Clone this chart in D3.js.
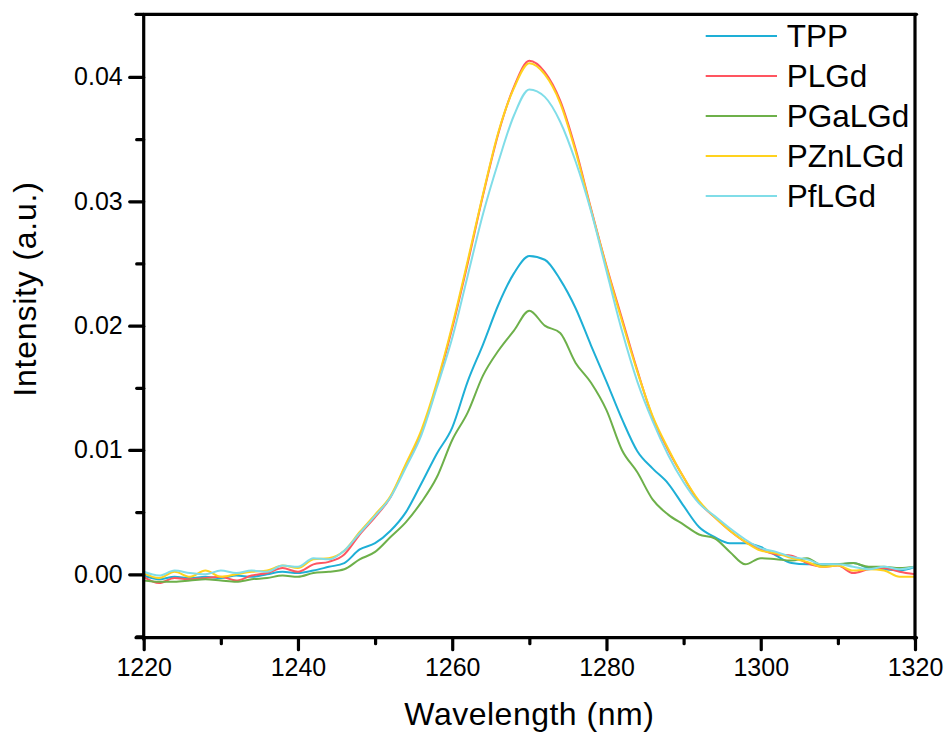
<!DOCTYPE html>
<html><head><meta charset="utf-8">
<script src="https://cdn.jsdelivr.net/npm/d3@7"></script>
<style>body{margin:0;background:#fff}svg{display:block}text{font-family:Arial,"Liberation Sans",sans-serif;fill:#000}</style>
</head><body>
<svg id="c" width="947" height="733"></svg>
<script>
const wavelength = [1220,1222,1224,1226,1228,1230,1232,1234,1236,1238,1240,1242,1244,1246,1248,1250,1252,1254,1256,1258,1260,1262,1264,1266,1268,1270,1272,1274,1276,1278,1280,1282,1284,1286,1288,1290,1292,1294,1296,1298,1300,1302,1304,1306,1308,1310,1312,1314,1316,1318,1320];
const seriesNames = ["TPP","PLGd","PGaLGd","PZnLGd","PfLGd"];
const seriesColors = ["#1eafd6","#ff5560","#6db04a","#ffd21e","#80dde8"];
const TPP = [-0.0001,-0.0004,-0.0002,-0.0003,-0.0002,-0.0003,-0.0001,-0.0002,0.0000,0.0002,0.0001,0.0003,0.0006,0.0009,0.0020,0.0025,0.0035,0.0050,0.0073,0.0097,0.0118,0.0155,0.0185,0.0217,0.0242,0.0256,0.0253,0.0237,0.0214,0.0184,0.0155,0.0125,0.0099,0.0085,0.0073,0.0055,0.0038,0.0030,0.0025,0.0025,0.0022,0.0015,0.0009,0.0008,0.0008,0.0008,0.0009,0.0005,0.0004,0.0003,0.0006];
const PLGd = [-0.0002,-0.0007,-0.0003,-0.0004,-0.0003,-0.0002,-0.0005,-0.0001,0.0001,0.0005,0.0002,0.0008,0.0010,0.0016,0.0032,0.0046,0.0062,0.0088,0.0114,0.0152,0.0198,0.0250,0.0305,0.0355,0.0392,0.0413,0.0404,0.0381,0.0342,0.0294,0.0248,0.0206,0.0164,0.0126,0.0100,0.0078,0.0058,0.0046,0.0035,0.0026,0.0020,0.0016,0.0015,0.0009,0.0006,0.0007,0.0001,0.0004,0.0005,0.0002,0.0000];
const PGaLGd = [-0.0005,-0.0006,-0.0006,-0.0005,-0.0004,-0.0005,-0.0006,-0.0004,-0.0003,-0.0001,-0.0002,0.0001,0.0002,0.0004,0.0012,0.0018,0.0030,0.0042,0.0058,0.0078,0.0108,0.0130,0.0160,0.0180,0.0196,0.0212,0.0200,0.0194,0.0170,0.0154,0.0132,0.0100,0.0082,0.0060,0.0048,0.0040,0.0032,0.0029,0.0018,0.0008,0.0013,0.0012,0.0011,0.0013,0.0007,0.0008,0.0009,0.0006,0.0006,0.0005,0.0006];
const PZnLGd = [0.0001,-0.0003,0.0002,-0.0002,0.0003,-0.0002,0.0000,0.0002,0.0003,0.0007,0.0005,0.0012,0.0013,0.0019,0.0034,0.0048,0.0063,0.0089,0.0116,0.0154,0.0200,0.0252,0.0306,0.0356,0.0391,0.0411,0.0402,0.0379,0.0340,0.0293,0.0247,0.0204,0.0163,0.0127,0.0101,0.0078,0.0059,0.0046,0.0035,0.0026,0.0019,0.0017,0.0013,0.0010,0.0006,0.0007,0.0003,0.0004,0.0003,-0.0002,-0.0002];
const PfLGd = [0.0002,-0.0001,0.0003,0.0001,0.0000,0.0003,0.0001,0.0003,0.0002,0.0007,0.0006,0.0013,0.0012,0.0019,0.0033,0.0047,0.0062,0.0086,0.0112,0.0150,0.0190,0.0240,0.0290,0.0332,0.0369,0.0390,0.0384,0.0364,0.0332,0.0292,0.0244,0.0196,0.0155,0.0123,0.0096,0.0074,0.0057,0.0047,0.0037,0.0028,0.0021,0.0018,0.0014,0.0012,0.0008,0.0008,0.0006,0.0004,0.0006,0.0004,0.0006];
const seriesValues = [TPP, PLGd, PGaLGd, PZnLGd, PfLGd];
const xTicks = [1220,1240,1260,1280,1300,1320];
const xMinor = [1230,1250,1270,1290,1310];
const yTicks = [0.00,0.01,0.02,0.03,0.04];
const yMinor = [-0.005,0.005,0.015,0.025,0.035];

const svg = d3.select("#c");
const L = 143.7, R = 915, T = 14.3, B = 637.7;
const x = d3.scaleLinear().domain([1220,1320]).range([L,R]);
const y = d3.scaleLinear().domain([-0.0051,0.04504]).range([B,T]);

// series
const line = d3.line().x((d,i)=>x(wavelength[i])).y(d=>y(d)).curve(d3.curveMonotoneX);
const g = svg.append("g");
seriesValues.forEach((vals,k)=>{
  g.append("path").attr("d", line(vals)).attr("fill","none")
   .attr("stroke", seriesColors[k]).attr("stroke-width",2).attr("stroke-linejoin","round");
});

// frame
const fr = svg.append("g").attr("stroke","#000").attr("stroke-width",3.2).attr("stroke-linecap","round");
fr.append("line").attr("x1",136).attr("x2",R+1.5).attr("y1",T).attr("y2",T);
fr.append("line").attr("x1",136).attr("x2",R+1.5).attr("y1",B).attr("y2",B);
fr.append("line").attr("x1",L).attr("x2",L).attr("y1",T).attr("y2",B+1.5);
fr.append("line").attr("x1",R).attr("x2",R).attr("y1",T).attr("y2",B+1.5);

// axes via d3
const xAx = svg.append("g").attr("transform",`translate(0,${B})`)
  .call(d3.axisBottom(x).tickValues(xTicks).tickSize(12).tickPadding(9).tickFormat(d3.format("d")));
const xAxm = svg.append("g").attr("transform",`translate(0,${B})`)
  .call(d3.axisBottom(x).tickValues(xMinor).tickSize(6).tickFormat(""));
const yAx = svg.append("g").attr("transform",`translate(${L},0)`)
  .call(d3.axisLeft(y).tickValues(yTicks).tickSize(14).tickPadding(7).tickFormat(d3.format(".2f")));
const yAxm = svg.append("g").attr("transform",`translate(${L},0)`)
  .call(d3.axisLeft(y).tickValues(yMinor).tickSize(7).tickFormat(""));
[xAx,xAxm,yAx,yAxm].forEach(a=>{
  a.select(".domain").remove();
  a.selectAll(".tick line").attr("stroke","#000").attr("stroke-width",3.2).attr("stroke-linecap","round");
  a.selectAll(".tick text").attr("font-size",25).attr("font-family","Arial, 'Liberation Sans', sans-serif").attr("fill","#000");
});

// titles
svg.append("text").attr("x",(L+R)/2).attr("y",725).attr("text-anchor","middle")
  .attr("font-size",32).attr("letter-spacing",0.5).text("Wavelength (nm)");
svg.append("text").attr("transform","translate(36,289) rotate(-90)").attr("text-anchor","middle")
  .attr("font-size",32).attr("letter-spacing",0.8).text("Intensity (a.u.)");

// legend
const lg = svg.append("g");
seriesNames.forEach((n,k)=>{
  const yy = 36 + k*40;
  lg.append("line").attr("x1",705.7).attr("x2",777).attr("y1",yy).attr("y2",yy)
    .attr("stroke",seriesColors[k]).attr("stroke-width",2);
  lg.append("text").attr("x",786.7).attr("y",yy+11).attr("font-size",31.5).text(n);
});
</script>
</body></html>
